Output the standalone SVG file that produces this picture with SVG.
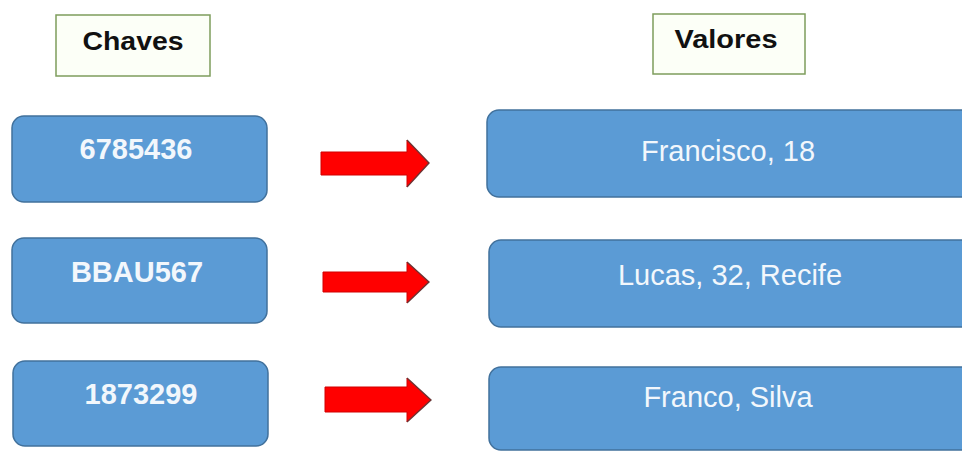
<svg xmlns="http://www.w3.org/2000/svg" width="962" height="453" viewBox="0 0 962 453">
<defs>
<style>
.title{fill:#fcfff7;stroke:#7e9d5c;stroke-width:1.5}
.box{fill:#5b9bd5;stroke:#41719c;stroke-width:1.5}
.tt{font-family:"Liberation Sans",Arial,sans-serif;font-weight:bold;font-size:25px;fill:#111;text-anchor:middle}
.kt{font-family:"Liberation Sans",Arial,sans-serif;font-weight:bold;font-size:29px;fill:#f2f7fc;text-anchor:middle}
.vt{font-family:"Liberation Sans",Arial,sans-serif;font-size:29px;fill:#f2f7fc;text-anchor:middle}
.arrow{fill:#ff0000;stroke:#d10000;stroke-width:1}
.edge{fill:none;stroke:#5a3a3a;stroke-width:1.5;stroke-opacity:0.8}
</style>
</defs>
<rect width="962" height="453" fill="#ffffff"/>
<g id="chaves">
<rect class="title" x="56" y="15" width="154" height="61"/>
<text class="tt" x="133" y="50" textLength="101" lengthAdjust="spacingAndGlyphs">Chaves</text>
</g>
<g id="valores">
<rect class="title" x="653" y="14" width="152" height="60"/>
<text class="tt" x="726" y="48" textLength="103" lengthAdjust="spacingAndGlyphs">Valores</text>
</g>
<g id="key1">
<rect class="box" x="12" y="116" width="255" height="86" rx="12"/>
<text class="kt" x="136" y="159">6785436</text>
</g>
<g id="key2">
<rect class="box" x="12" y="238" width="255" height="85" rx="12"/>
<text class="kt" x="137" y="282">BBAU567</text>
</g>
<g id="key3">
<rect class="box" x="13" y="361" width="255" height="85" rx="12"/>
<text class="kt" x="141" y="404">1873299</text>
</g>
<g id="val1">
<rect class="box" x="487" y="110" width="490" height="87" rx="12"/>
<text class="vt" x="728" y="161">Francisco, 18</text>
</g>
<g id="val2">
<rect class="box" x="489" y="240" width="490" height="87" rx="12"/>
<text class="vt" x="730" y="285">Lucas, 32, Recife</text>
</g>
<g id="val3">
<rect class="box" x="489" y="367" width="490" height="83" rx="12"/>
<text class="vt" x="728" y="407">Franco, Silva</text>
</g>
<g id="connectors">
<polygon class="arrow" points="321,152 407,152 407,140 429,163 407,187 407,175 321,175"/>
<polyline class="edge" points="407,140 429,163 407,187"/>
<polygon class="arrow" points="323,272 407,272 407,262 429,282 407,303 407,292 323,292"/>
<polyline class="edge" points="407,262 429,282 407,303"/>
<polygon class="arrow" points="325,387 407,387 407,378 431,400 407,422 407,412 325,412"/>
<polyline class="edge" points="407,378 431,400 407,422"/>
</g>
</svg>
